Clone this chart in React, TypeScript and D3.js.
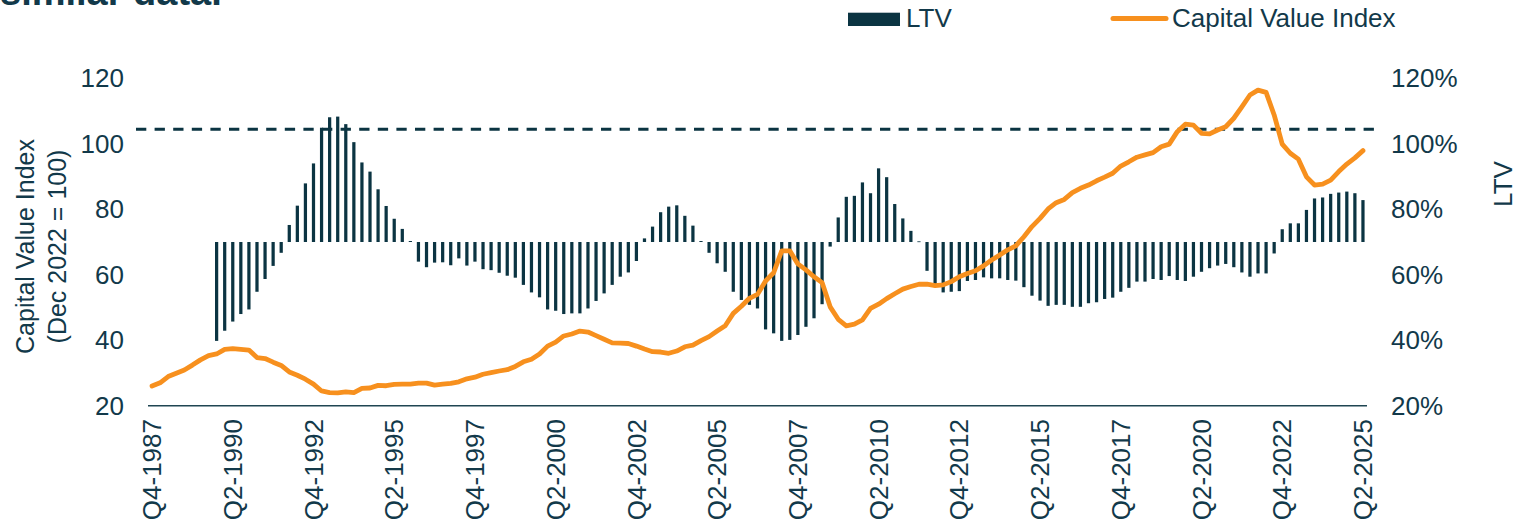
import React, { useEffect, useRef } from "react";
import * as d3 from "d3";

// quarterly series, Q4-1987 .. Q2-2025
const startYear = 1987;
const startQuarter = 4;
const nQuarters = 151;

const quarters = d3.range(nQuarters).map((i) => {
  const q = ((startQuarter - 1 + i) % 4) + 1;
  const y = startYear + Math.floor((startQuarter - 1 + i) / 4);
  return `Q${q}-${y}`;
});

const tickLabels = [
  "Q4-1987", "Q2-1990", "Q4-1992", "Q2-1995", "Q4-1997", "Q2-2000",
  "Q4-2002", "Q2-2005", "Q4-2007", "Q2-2010", "Q4-2012", "Q2-2015",
  "Q4-2017", "Q2-2020", "Q4-2022", "Q2-2025",
];

// Capital Value Index (Dec 2022 = 100)
const capitalValue = [
  26.0, 27.0, 28.9, 29.9, 30.9, 32.4, 34.0, 35.3, 35.8, 37.2,
  37.4, 37.2, 37.0, 34.7, 34.4, 33.3, 32.3, 30.3, 29.3, 28.1,
  26.6, 24.5, 24.0, 23.9, 24.2, 24.0, 25.3, 25.4, 26.2, 26.1,
  26.5, 26.6, 26.6, 26.9, 26.9, 26.3, 26.6, 26.8, 27.3, 28.2,
  28.7, 29.6, 30.1, 30.6, 31.0, 32.0, 33.4, 34.2, 35.8, 38.2,
  39.4, 41.3, 41.9, 42.8, 42.5, 41.4, 40.3, 39.2, 39.1, 39.0,
  38.2, 37.3, 36.5, 36.4, 36.0, 36.7, 38.0, 38.5, 39.9, 41.1,
  42.8, 44.4, 48.2, 50.4, 52.8, 54.0, 58.1, 60.6, 67.3, 67.3,
  63.3, 61.5, 59.4, 57.6, 50.2, 46.4, 44.4, 44.9, 46.2, 49.7,
  51.0, 52.7, 54.2, 55.6, 56.4, 57.1, 57.1, 56.7, 56.9, 57.9,
  59.4, 60.4, 61.2, 62.7, 64.5, 66.0, 67.6, 68.8, 71.6, 74.7,
  77.2, 80.1, 82.0, 83.0, 85.1, 86.4, 87.4, 88.7, 89.8, 91.0,
  93.2, 94.5, 95.9, 96.6, 97.3, 99.1, 99.9, 103.7, 106.0, 105.7,
  103.2, 103.0, 104.2, 105.2, 107.8, 111.3, 114.9, 116.4, 115.7, 108.8,
  99.9, 97.1, 95.3, 89.9, 87.4, 87.7, 88.9, 91.5, 93.8, 95.7,
  97.9,
];

// LTV in % (no data before Q4-1989)
const ltv = [
  null, null, null, null, null, null, null, null, 39.8, 42.9,
  45.7, 48.0, 49.4, 54.8, 58.7, 62.7, 66.7, 75.2, 81.1, 87.9,
  94.0, 104.9, 108.1, 108.3, 106.0, 100.5, 94.3, 91.5, 86.1, 81.0,
  77.1, 74.0, 70.3, 64.0, 62.3, 63.7, 63.8, 62.9, 65.0, 62.8,
  64.0, 61.7, 61.4, 60.6, 59.7, 59.1, 56.9, 54.6, 53.1, 49.4,
  49.0, 48.0, 48.2, 48.2, 49.7, 52.0, 54.3, 56.9, 59.4, 60.7,
  64.2, 71.1, 74.7, 79.1, 80.8, 81.2, 78.0, 75.0, 70.3, 66.7,
  63.5, 60.9, 54.8, 52.3, 50.8, 49.7, 43.3, 42.1, 39.8, 40.1,
  41.6, 44.1, 46.7, 51.0, 68.6, 77.5, 83.8, 84.1, 88.2, 84.9,
  92.5, 89.8, 81.6, 77.2, 73.4, 70.2, 61.2, 57.2, 54.6, 54.8,
  55.0, 58.1, 58.4, 59.2, 58.9, 58.9, 58.4, 58.2, 56.2, 53.6,
  52.1, 50.5, 50.8, 50.8, 50.2, 50.2, 51.3, 51.6, 52.6, 53.0,
  54.8, 56.0, 57.9, 57.9, 58.7, 58.4, 59.6, 58.4, 58.1, 59.4,
  60.9, 62.0, 62.8, 63.3, 62.3, 60.7, 59.4, 60.4, 60.4, 66.5,
  73.9, 75.7, 75.7, 79.8, 83.3, 83.6, 84.7, 85.1, 85.4, 84.9,
  82.8,
];

const ltvBase = 70; // bars grow from 70%
const ltvThreshold = 104.4; // dashed reference line

const leftTicks = [20, 40, 60, 80, 100, 120];
const rightTicks = [20, 40, 60, 80, 100, 120];

const W = 1531;
const H = 528;
const DARK = "#0b3442";
const TEXT = "#12394a";
const ORANGE = "#f7901e";
const FONT = "'Liberation Sans', Arial, sans-serif";

const ComboChart = () => {
  const svgRef = useRef(null);

  useEffect(() => {
    const svg = d3.select(svgRef.current);
    svg.selectAll("*").remove();

    const x = d3.scaleBand().domain(quarters).range([148, 1367]).padding(0);
    const cx = (q) => x(q) + x.bandwidth() / 2;
    const y = d3.scaleLinear().domain([20, 120]).range([405.7, 78.3]);
    const yR = d3.scaleLinear().domain([20, 120]).range([405.7, 78.3]);
    const barW = x.bandwidth() * 0.4;

    // tail of the page text above the chart (cropped in the original too)
    svg
      .append("text")
      .attr("x", 0)
      .attr("y", 5)
      .attr("font-family", FONT)
      .attr("font-weight", "bold")
      .attr("font-size", 38)
      .attr("fill", TEXT)
      .text("similar data.");

    // LTV bars
    svg
      .append("g")
      .selectAll("rect")
      .data(ltv.map((v, i) => ({ q: quarters[i], v })).filter((d) => d.v != null))
      .join("rect")
      .attr("x", (d) => cx(d.q) - barW / 2)
      .attr("width", barW)
      .attr("y", (d) => Math.min(yR(d.v), yR(ltvBase)))
      .attr("height", (d) => Math.max(Math.abs(yR(d.v) - yR(ltvBase)), 0.8))
      .attr("fill", DARK);

    // dashed threshold
    svg
      .append("line")
      .attr("x1", 136)
      .attr("x2", 1380)
      .attr("y1", yR(ltvThreshold))
      .attr("y2", yR(ltvThreshold))
      .attr("stroke", DARK)
      .attr("stroke-width", 3)
      .attr("stroke-dasharray", "10.3 8.3");

    // x axis baseline
    svg
      .append("line")
      .attr("x1", 148)
      .attr("x2", 1367)
      .attr("y1", 405.7)
      .attr("y2", 405.7)
      .attr("stroke", "#1f4552")
      .attr("stroke-width", 1.6);

    // capital value line
    const line = d3
      .line()
      .x((d, i) => cx(quarters[i]))
      .y((d) => y(d));

    svg
      .append("path")
      .datum(capitalValue)
      .attr("d", line)
      .attr("fill", "none")
      .attr("stroke", ORANGE)
      .attr("stroke-width", 4.8)
      .attr("stroke-linejoin", "round")
      .attr("stroke-linecap", "round");

    const txt = (g) =>
      g.attr("font-family", FONT).attr("font-size", 26).attr("fill", TEXT);

    // left ticks
    svg
      .append("g")
      .call(txt)
      .selectAll("text")
      .data(leftTicks)
      .join("text")
      .attr("x", 124)
      .attr("y", (d) => y(d))
      .attr("dy", "0.35em")
      .attr("text-anchor", "end")
      .text((d) => d);

    // right ticks
    svg
      .append("g")
      .call(txt)
      .selectAll("text")
      .data(rightTicks)
      .join("text")
      .attr("x", 1391)
      .attr("y", (d) => yR(d))
      .attr("dy", "0.35em")
      .text((d) => `${d}%`);

    // x tick labels
    svg
      .append("g")
      .call(txt)
      .selectAll("text")
      .data(tickLabels)
      .join("text")
      .attr("transform", (d) => `translate(${cx(d)},419) rotate(-90)`)
      .attr("dy", "0.35em")
      .attr("text-anchor", "end")
      .text((d) => d);

    // axis titles
    const leftTitle = svg
      .append("text")
      .call(txt)
      .attr("font-size", 25)
      .attr("text-anchor", "middle")
      .attr("transform", "translate(25,246.5) rotate(-90)");
    leftTitle.append("tspan").attr("x", 0).attr("dy", "0.35em").text("Capital Value Index");
    leftTitle.append("tspan").attr("x", 0).attr("dy", "1.3em").text("(Dec 2022 = 100)");

    svg
      .append("text")
      .call(txt)
      .attr("text-anchor", "middle")
      .attr("transform", "translate(1503,184) rotate(-90)")
      .attr("dy", "0.35em")
      .text("LTV");

    // legend
    svg
      .append("rect")
      .attr("x", 848)
      .attr("y", 12.7)
      .attr("width", 52)
      .attr("height", 13.3)
      .attr("fill", DARK);
    svg.append("text").call(txt).attr("x", 906).attr("y", 26.6).text("LTV");

    svg
      .append("line")
      .attr("x1", 1113)
      .attr("x2", 1166)
      .attr("y1", 18.5)
      .attr("y2", 18.5)
      .attr("stroke", ORANGE)
      .attr("stroke-width", 5)
      .attr("stroke-linecap", "round");
    svg
      .append("text")
      .call(txt)
      .attr("x", 1172)
      .attr("y", 26.6)
      .text("Capital Value Index");
  }, []);

  return (
    <svg
      ref={svgRef}
      width={W}
      height={H}
      style={{ position: "absolute", left: 0, top: 0, background: "#fff" }}
    />
  );
};

export default function App() {
  return <ComboChart />;
}
